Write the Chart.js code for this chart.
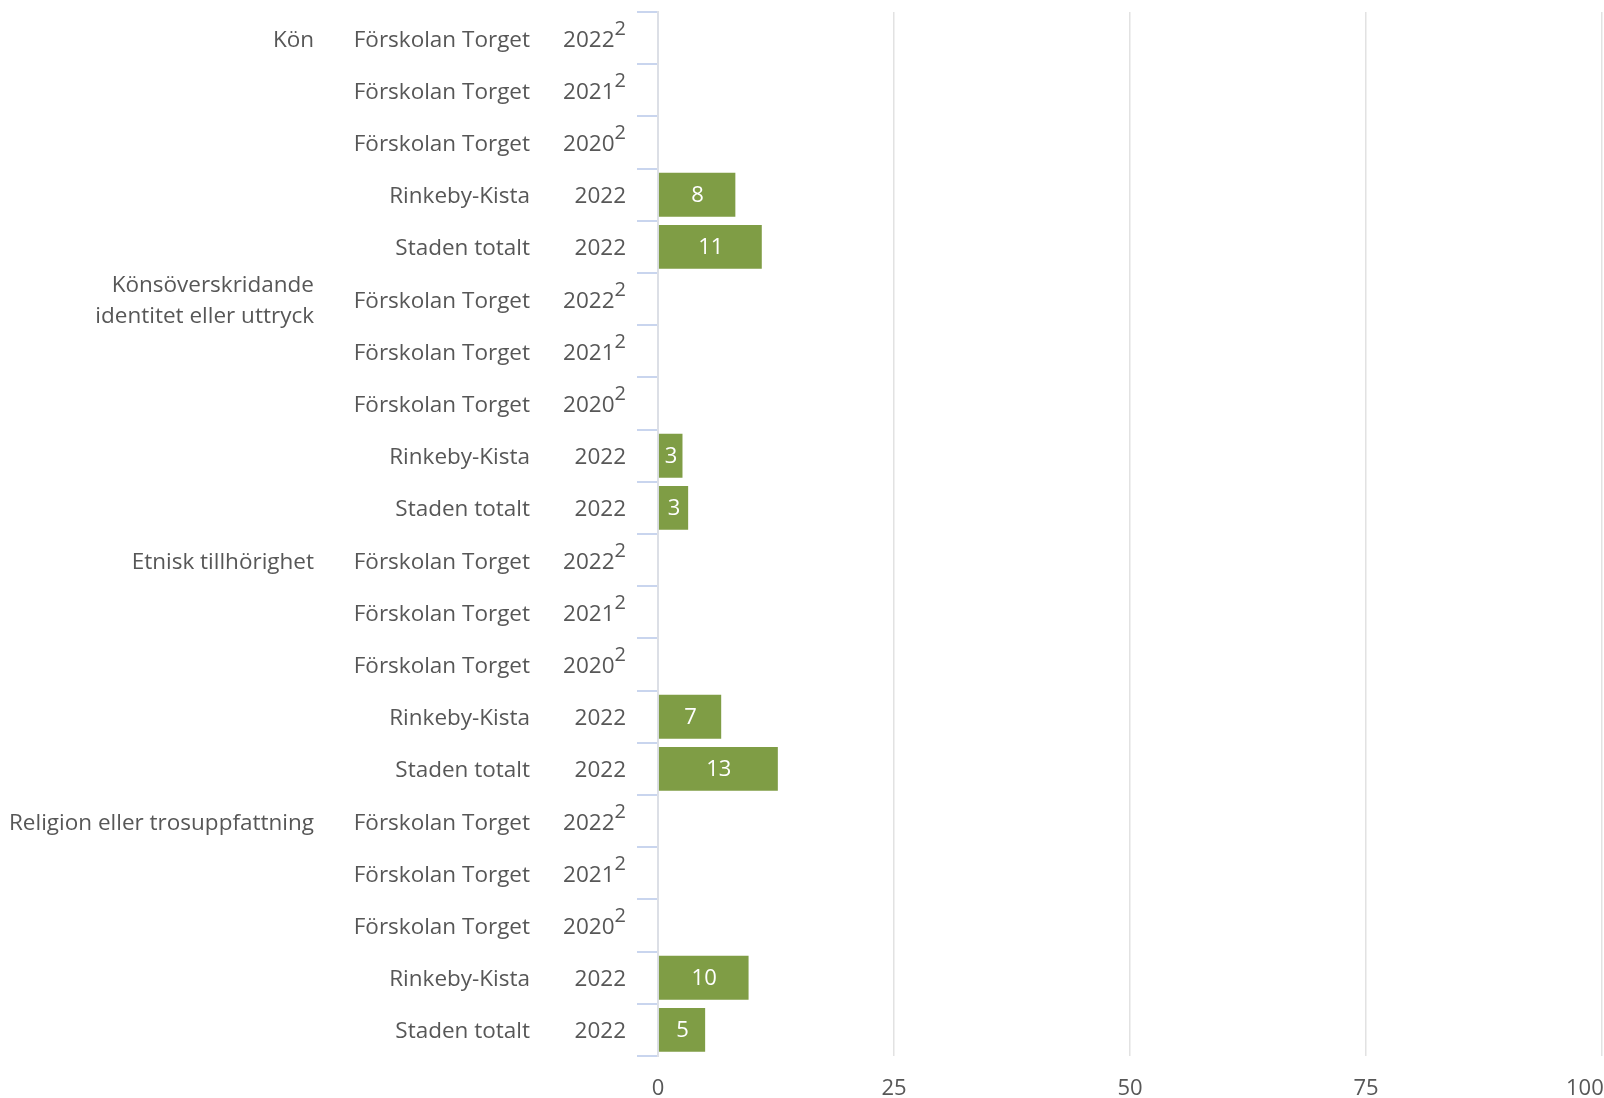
<!DOCTYPE html>
<html lang="sv">
<head>
<meta charset="utf-8">
<title>Diskriminering</title>
<script src="https://cdn.jsdelivr.net/npm/chart.js@4/dist/chart.umd.min.js"></script>
<style>
  html, body { margin: 0; padding: 0; background: #fff; overflow: hidden; }
  #wrap { width: 1604px; height: 1098px; position: relative; }
</style>
</head>
<body>
<div id="wrap"><canvas id="chart"></canvas></div>
<script>
// grupper (en per fem rader)
const groupNames = [
    "Kön",
    ["Könsöverskridande", "identitet eller uttryck"],
    "Etnisk tillhörighet",
    "Religion eller trosuppfattning"
];
// enheter och år, samma ordning i varje grupp
const unitNames = ["Förskolan Torget", "Förskolan Torget", "Förskolan Torget", "Rinkeby-Kista", "Staden totalt"];
const yearLabels = ["2022", "2021", "2020", "2022", "2022"];
const footnotes = ["2", "2", "2", "", ""];
// värden i procent, null = för få svar
const values = [
    null, null, null, 8.3, 11.1,
    null, null, null, 2.7, 3.3,
    null, null, null, 6.8, 12.8,
    null, null, null, 9.7, 5.1
];
const xTicks = [0, 25, 50, 75, 100];

const textColor = "#575757";
const fontFamily = "'Open Sans', sans-serif";

const rowLabels = [];
groupNames.forEach((g, gi) => {
    unitNames.forEach((u, i) => rowLabels.push(u + " " + yearLabels[i]));
});

// etiketter till vänster om axeln: grupp, enhet, år (+ fotnot)
const rowLabelPlugin = {
    id: "rowLabels",
    afterDraw(chart) {
        const ctx = chart.ctx;
        const y = chart.scales.y;
        ctx.save();
        ctx.fillStyle = textColor;
        ctx.textBaseline = "middle";
        rowLabels.forEach((lbl, idx) => {
            const py = y.getPixelForValue(idx) + 2;
            const i = idx % unitNames.length;
            const gi = Math.floor(idx / unitNames.length);

            ctx.font = "22.5px " + fontFamily;
            ctx.textAlign = "right";
            if (i === 0) {
                const g = groupNames[gi];
                const lines = Array.isArray(g) ? g : [g];
                const lh = 31;
                lines.forEach((line, li) => {
                    ctx.fillText(line, 314, py + (li - (lines.length - 1) / 2) * lh);
                });
            }
            ctx.fillText(unitNames[i], 530, py);

            let right = 626;
            if (footnotes[i]) {
                ctx.font = "20px " + fontFamily;
                const w = ctx.measureText(footnotes[i]).width;
                ctx.fillText(footnotes[i], right, py - 11);
                right -= w;
                ctx.font = "22.5px " + fontFamily;
            }
            ctx.fillText(yearLabels[i], right, py);
        });
        ctx.restore();
    }
};

// värdeetiketter i staplarna
const valueLabelPlugin = {
    id: "valueLabels",
    afterDatasetsDraw(chart) {
        const ctx = chart.ctx;
        const meta = chart.getDatasetMeta(0);
        ctx.save();
        ctx.fillStyle = "#ffffff";
        ctx.font = "22px " + fontFamily;
        ctx.textAlign = "center";
        ctx.textBaseline = "middle";
        meta.data.forEach((bar, idx) => {
            const v = values[idx];
            if (v === null) return;
            ctx.fillText(Math.round(v), (bar.x + bar.base) / 2, bar.y + 1);
        });
        ctx.restore();
    }
};

new Chart(document.getElementById("chart"), {
    type: "bar",
    data: {
        labels: rowLabels,
        datasets: [{
            data: values,
            backgroundColor: "#7f9d45",
            borderColor: "rgba(255,255,255,0.45)",
            borderWidth: 1,
            barPercentage: 0.88,
            categoryPercentage: 1
        }]
    },
    options: {
        indexAxis: "y",
        responsive: true,
        maintainAspectRatio: false,
        animation: false,
        layout: {
            autoPadding: false,
            padding: { top: 12, right: 2, left: 0, bottom: 0 }
        },
        plugins: {
            legend: { display: false },
            tooltip: { enabled: false }
        },
        scales: {
            x: {
                min: 0,
                max: 100,
                afterBuildTicks(scale) {
                    scale.ticks = xTicks.map(v => ({ value: v }));
                },
                afterFit(scale) {
                    scale.height = 42;
                    scale.paddingLeft = 0;
                    scale.paddingRight = 0;
                },
                grid: { color: "#e2e2e2", lineWidth: 1.5, drawTicks: false },
                border: { display: false },
                ticks: {
                    color: textColor,
                    font: { family: fontFamily, size: 22 },
                    padding: 20,
                    maxRotation: 0,
                    // sista etiketten skjuts in så att den syns helt
                    callback: (v) => v === 100 ? v + "      " : v
                }
            },
            y: {
                type: "category",
                offset: true,
                afterFit(scale) { scale.width = 658; },
                grid: {
                    offset: true,
                    drawOnChartArea: false,
                    color: "#c9d5ee",
                    lineWidth: 2,
                    tickLength: 21
                },
                border: { color: "#dcdfe6", width: 2 },
                ticks: { display: false }
            }
        }
    },
    plugins: [rowLabelPlugin, valueLabelPlugin]
});
</script>
</body>
</html>
